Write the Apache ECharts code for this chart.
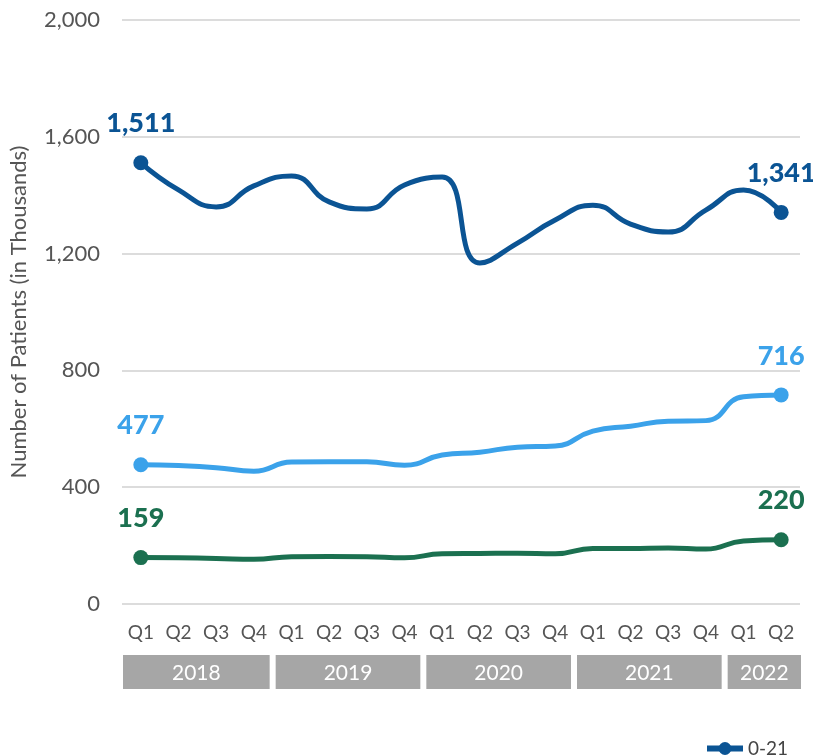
<!DOCTYPE html>
<html>
<head>
<meta charset="utf-8">
<script src="https://cdn.jsdelivr.net/npm/echarts@6/dist/echarts.min.js"></script>
<style>
  html, body { margin: 0; padding: 0; background: #fff; }
  #chart { width: 813px; height: 756px; }
</style>
</head>
<body>
<div id="chart"></div>
<script>
var quarters = ['Q1','Q2','Q3','Q4','Q1','Q2','Q3','Q4','Q1','Q2','Q3','Q4','Q1','Q2','Q3','Q4','Q1','Q2'];
var years = ['2018', '2019', '2020', '2021', '2022'];
var yearSpans = [[0, 3], [4, 7], [8, 11], [12, 15], [16, 17]];

var seriesNames = ['0-21', '22-64', '65+'];
var colors = ['#0b5494', '#3ba2ea', '#1b7050'];

var young = [1511, 1418, 1360, 1432, 1466, 1377, 1353, 1435, 1462, 1168, 1236, 1315, 1366, 1301, 1274, 1349, 1418, 1341];
var adult = [477, 474, 467, 455, 486, 487, 487, 475, 510, 520, 537, 541, 592, 609, 626, 628, 710, 716];
var senior = [159, 158, 156, 153, 162, 163, 162, 158, 172, 173, 174, 172, 190, 190, 192, 188, 216, 220];

var FONT = 'Lato, "Open Sans", sans-serif';

function fmt(v) {
    return String(v).replace(/\B(?=(\d{3})+(?!\d))/g, ',');
}

function lastOrFirst(i, arr) {
    return i === 0 || i === arr.length - 1;
}

function makeLine(name, values, color) {
    return {
        name: name,
        type: 'line',
        data: values,
        smooth: 0.5,
        symbol: 'circle',
        symbolSize: function (v, p) {
            return lastOrFirst(p.dataIndex, values) ? 15 : 0;
        },
        showSymbol: true,
        lineStyle: { width: 5, color: color },
        itemStyle: { color: color },
        label: {
            show: true,
            position: 'top',
            distance: 18,
            color: color,
            fontFamily: FONT,
            fontWeight: 900,
            fontSize: 27,
            formatter: function (p) {
                return lastOrFirst(p.dataIndex, values) ? fmt(p.value) : '';
            }
        },
        emphasis: { disabled: true },
        z: 3
    };
}

var series = [
    makeLine(seriesNames[0], young, colors[0]),
    makeLine(seriesNames[1], adult, colors[1]),
    makeLine(seriesNames[2], senior, colors[2]),
    {
        type: 'custom',
        name: 'years',
        silent: true,
        clip: false,
        data: yearSpans,
        renderItem: function (params, api) {
            var s = api.coord([api.value(0), 0]);
            var e = api.coord([api.value(1), 0]);
            var w = api.size([1, 0])[0];
            var first = params.dataIndex === 0;
            var last = params.dataIndex === yearSpans.length - 1;
            var x0 = s[0] - w / 2 + (first ? 1 : 3);
            var x1 = e[0] + w / 2 - (last ? -1 : 3);
            var y0 = s[1] + 51;
            return {
                type: 'group',
                children: [{
                    type: 'rect',
                    shape: { x: x0, y: y0, width: x1 - x0, height: 34 },
                    style: { fill: '#a6a6a6' }
                }, {
                    type: 'text',
                    style: {
                        x: (x0 + x1) / 2,
                        y: y0 + 18,
                        text: years[params.dataIndex],
                        fill: '#fff',
                        font: '21px ' + FONT,
                        align: 'center',
                        verticalAlign: 'middle'
                    }
                }]
            };
        }
    }
];

var chart = echarts.init(document.getElementById('chart'));
chart.setOption({
    animation: false,
    textStyle: { fontFamily: FONT },
    grid: { left: 122, right: 13, top: 20, bottom: 152 },
    legend: {
        data: seriesNames,
        left: 699,
        top: 734,
        itemWidth: 36,
        itemHeight: 16,
        itemGap: 24,
        lineStyle: { width: 6 },
        textStyle: { fontSize: 19, color: '#444', fontFamily: FONT }
    },
    xAxis: {
        type: 'category',
        data: quarters,
        boundaryGap: true,
        axisLine: { show: false },
        axisTick: { show: false },
        axisLabel: { color: '#555', fontSize: 19, margin: 19, interval: 0 }
    },
    yAxis: {
        type: 'value',
        min: 0,
        max: 2000,
        interval: 400,
        name: 'Number of Patients (in Thousands)',
        nameLocation: 'middle',
        nameGap: 92,
        nameTextStyle: { color: '#555', fontSize: 22, fontFamily: FONT },
        axisLine: { show: false },
        axisTick: { show: false },
        axisLabel: { color: '#555', fontSize: 22, margin: 22, formatter: fmt },
        splitLine: { lineStyle: { color: '#dcdcdc', width: 2 } }
    },
    series: series
});
</script>
</body>
</html>
